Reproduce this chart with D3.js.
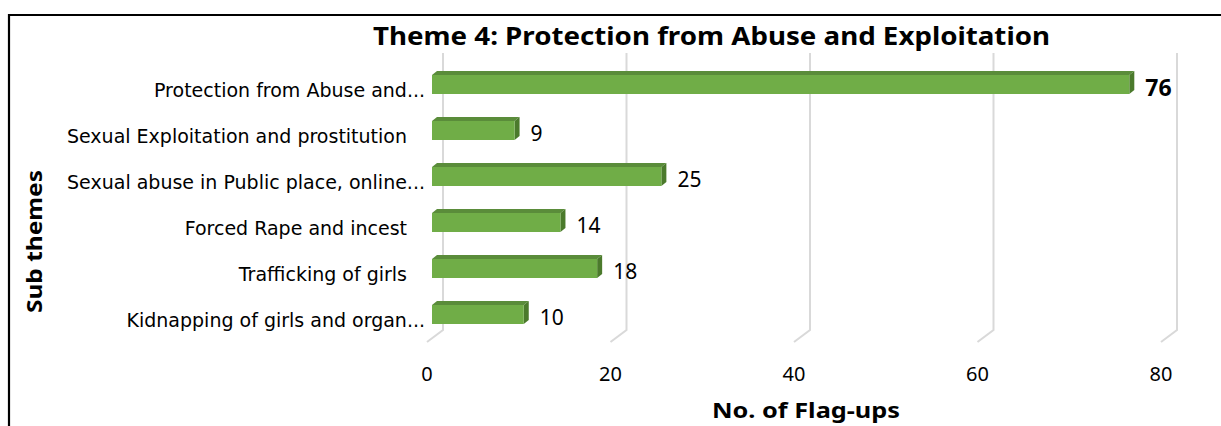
<!DOCTYPE html>
<html><head><meta charset="utf-8">
<script src="https://cdn.jsdelivr.net/npm/d3@7"></script>
<style>body{margin:0;background:#fff} svg{display:block}</style>
</head><body>
<script>
const categories = ["Protection from Abuse and...", "Sexual Exploitation and prostitution", "Sexual abuse in Public place, online...", "Forced Rape and incest", "Trafficking of girls", "Kidnapping of girls and organ..."];
const values = [76, 9, 25, 14, 18, 10];
const tickValues = [0, 20, 40, 60, 80];
const chartTitle = "Theme 4: Protection from Abuse and Exploitation";
const xTitle = "No. of Flag-ups";
const yTitle = "Sub themes";

const W = 1221, H = 426;
const svg = d3.select("body").append("svg").attr("width", W).attr("height", H);

// frame
svg.append("path").attr("d", `M9,${H} V15 H${W}`).attr("fill", "none").attr("stroke", "#000").attr("stroke-width", 2.2);

const xBack = d3.scaleLinear().domain([0, 80]).range([443, 1177]);
const xBar = d3.scaleLinear().domain([0, 80]).range([432, 1166]);
const y = d3.scalePoint().domain(categories).range([84.5, 314.5]);
const depthX = -16, depthY = 12;
const barH = 19, dx = 5, dy = 4;

function fit(sel, target) {
  sel.each(function () {
    const w = this.getComputedTextLength();
    if (target && Math.abs(w - target) > 1) {
      d3.select(this).attr("textLength", target).attr("lengthAdjust", "spacingAndGlyphs");
    }
  });
}

// gridlines
svg.append("g").selectAll("path").data(tickValues).join("path")
  .attr("d", t => `M${xBack(t)},53 V330 L${xBack(t) + depthX},${330 + depthY}`)
  .attr("fill", "none").attr("stroke", "#d9d9d9").attr("stroke-width", 2);

// tick labels
svg.append("g").selectAll("text").data(tickValues).join("text")
  .attr("x", t => xBack(t) + depthX).attr("y", 381)
  .attr("text-anchor", "middle")
  .attr("font-family", "'Noto Sans', sans-serif").attr("font-size", 20).attr("fill", "#000")
  .text(t => t);

// bars
const data = categories.map((c, i) => ({ c, v: values[i] }));
const bars = svg.append("g").selectAll("g").data(data).join("g");
bars.append("path") // top face
  .attr("d", d => {
    const x0 = xBar(0), x1 = xBar(d.v), y0 = y(d.c) - barH / 2;
    return `M${x0},${y0} L${x0 + dx},${y0 - dy} L${x1 + dx},${y0 - dy} L${x1},${y0} Z`;
  }).attr("fill", "#5a8c3a");
bars.append("path") // side face
  .attr("d", d => {
    const x1 = xBar(d.v), y0 = y(d.c) - barH / 2, y1 = y(d.c) + barH / 2;
    return `M${x1},${y0} L${x1 + dx},${y0 - dy} L${x1 + dx},${y1 - dy} L${x1},${y1} Z`;
  }).attr("fill", "#4b7a2c");
bars.append("rect") // front face
  .attr("x", xBar(0)).attr("y", d => y(d.c) - barH / 2)
  .attr("width", d => xBar(d.v) - xBar(0)).attr("height", barH)
  .attr("fill", "#70ad47");

// value labels
const maxV = d3.max(values);
svg.append("g").selectAll("text").data(data).join("text")
  .attr("x", d => xBar(d.v) + 16).attr("y", d => y(d.c) + 2)
  .attr("dominant-baseline", "central")
  .attr("font-family", "'Noto Sans', sans-serif")
  .attr("font-size", d => d.v === maxV ? 23 : 21)
  .attr("font-weight", d => d.v === maxV ? "bold" : "normal")
  .attr("fill", "#000")
  .text(d => d.v);

// category labels
svg.append("g").selectAll("text").data(categories).join("text")
  .attr("x", d => d.endsWith("...") ? 425 : 407).attr("y", d => y(d) + 5)
  .attr("dominant-baseline", "central")
  .attr("text-anchor", "end")
  .attr("font-family", "'DejaVu Sans', sans-serif").attr("font-size", 19).attr("fill", "#000")
  .text(d => d);

// titles
svg.append("text").attr("x", 711.5).attr("y", 45).attr("text-anchor", "middle")
  .attr("font-family", "'Noto Sans', sans-serif").attr("font-weight", "bold").attr("font-size", 24.5)
  .text(chartTitle).call(fit, 677);
svg.append("text").attr("x", 806).attr("y", 418).attr("text-anchor", "middle")
  .attr("font-family", "'Noto Sans', sans-serif").attr("font-weight", "bold").attr("font-size", 20.5)
  .text(xTitle).call(fit, 188);
svg.append("text").attr("transform", "translate(42,241.5) rotate(-90)").attr("text-anchor", "middle")
  .attr("font-family", "'Noto Sans', sans-serif").attr("font-weight", "bold").attr("font-size", 21)
  .text(yTitle).call(fit, 143);
</script>
</body></html>
